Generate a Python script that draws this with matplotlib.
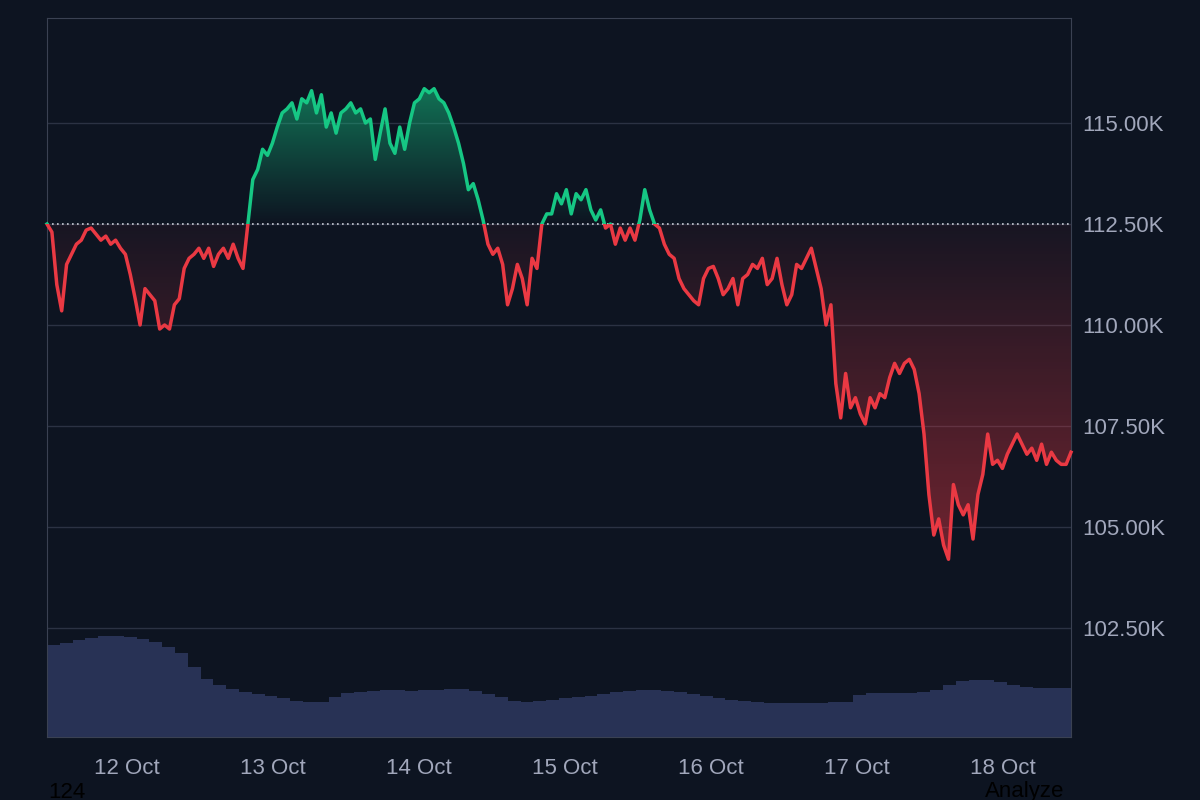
import numpy as np
import matplotlib.pyplot as plt
from matplotlib.colors import LinearSegmentedColormap
from matplotlib.path import Path

plt.rcParams['font.family'] = ['Liberation Sans', 'DejaVu Sans']

# price samples (K USD), roughly evenly spaced in time from ~11 Oct 11:00 to ~18 Oct 11:00
prices = [112.5, 112.3, 111.0, 110.35, 111.5, 111.75, 112.0, 112.1, 112.35, 112.4,
          112.25, 112.1, 112.2, 112.0, 112.1, 111.9, 111.75, 111.25, 110.65, 110.0,
          110.9, 110.75, 110.6, 109.9, 110.0, 109.9, 110.5, 110.65, 111.4, 111.65,
          111.75, 111.9, 111.65, 111.9, 111.45, 111.75, 111.9, 111.65, 112.0, 111.65,
          111.4, 112.5, 113.6, 113.85, 114.35, 114.2, 114.5, 114.9, 115.25, 115.35,
          115.5, 115.1, 115.6, 115.5, 115.8, 115.25, 115.7, 114.9, 115.25, 114.75,
          115.25, 115.35, 115.5, 115.25, 115.35, 115.0, 115.1, 114.1, 114.75, 115.35,
          114.5, 114.25, 114.9, 114.35, 115.0, 115.5, 115.6, 115.85, 115.75, 115.85,
          115.6, 115.5, 115.25, 114.9, 114.5, 114.0, 113.35, 113.5, 113.1, 112.6,
          112.0, 111.75, 111.9, 111.5, 110.5, 110.9, 111.5, 111.15, 110.5, 111.65,
          111.4, 112.5, 112.75, 112.75, 113.25, 113.0, 113.35, 112.75, 113.25, 113.1,
          113.35, 112.85, 112.6, 112.85, 112.4, 112.5, 112.0, 112.4, 112.1, 112.4,
          112.1, 112.6, 113.35, 112.85, 112.5, 112.4, 112.0, 111.75, 111.65, 111.15,
          110.9, 110.75, 110.6, 110.5, 111.15, 111.4, 111.45, 111.15, 110.75, 110.9,
          111.15, 110.5, 111.15, 111.25, 111.5, 111.4, 111.65, 111.0, 111.15, 111.65,
          111.0, 110.5, 110.75, 111.5, 111.4, 111.65, 111.9, 111.4, 110.9, 110.0,
          110.5, 108.55, 107.7, 108.8, 107.95, 108.2, 107.8, 107.55, 108.2, 107.95,
          108.3, 108.2, 108.7, 109.05, 108.8, 109.05, 109.15, 108.9, 108.3, 107.3,
          105.8, 104.8, 105.2, 104.55, 104.2, 106.05, 105.55, 105.3, 105.55, 104.7,
          105.8, 106.3, 107.3, 106.55, 106.65, 106.45, 106.8, 107.05, 107.3, 107.05,
          106.8, 106.95, 106.65, 107.05, 106.55, 106.85, 106.65, 106.55, 106.55, 106.85]

# volume profile (arbitrary units), evenly spaced over the same window
volumes = [92, 94, 97, 99, 101, 101, 100, 98, 95, 90, 84, 70, 58, 52, 48, 45, 43, 41, 39, 36,
           35, 35, 40, 44, 45, 46, 47, 47, 46, 47, 47, 48, 48, 46, 43, 40, 36, 35, 36, 37,
           39, 40, 41, 43, 45, 46, 47, 47, 46, 45, 43, 41, 39, 37, 36, 35, 34, 34, 34, 34,
           34, 35, 35, 42, 44, 44, 44, 44, 45, 47, 52, 56, 57, 57, 55, 52, 50, 49, 49, 49]

baseline = 112.5
t_start, t_end = 0.452, 7.466   # days since 11 Oct 00:00
tick_days = [1, 2, 3, 4, 5, 6, 7]
tick_labels = ["12 Oct", "13 Oct", "14 Oct", "15 Oct", "16 Oct", "17 Oct", "18 Oct"]
y_ticks = [102.5, 105.0, 107.5, 110.0, 112.5, 115.0]

BG = "#0d1421"
GRID = "#2b3243"
GREEN = "#16c784"
RED = "#ea3943"
TXT = "#a1a7bb"
Y0, Y1 = 99.8, 117.6

t = np.linspace(t_start, t_end, len(prices))
p = np.array(prices)

fig = plt.figure(figsize=(12, 8), dpi=100, facecolor=BG)
ax = fig.add_axes([47/1200, 63/800, 1024/1200, 719/800])
ax.set_facecolor(BG)

# volume on its own scale
vax = ax.twinx()
vax.set_ylim(0, 719)
vax.set_yticks([])
tv = np.linspace(t_start, t_end, len(volumes) + 1)
vax.bar(tv[:-1], volumes, width=tv[1] - tv[0], align="edge", color="#283255", linewidth=0)
vax.set_zorder(1)
ax.set_zorder(2)
ax.patch.set_visible(False)
vax.patch.set_visible(False)

for y in y_ticks:
    ax.axhline(y, color=GRID, lw=1, zorder=0)

# gradient fills clipped to the area between price and baseline
green_cmap = LinearSegmentedColormap.from_list("g", [(0.09, 0.78, 0.52, 0.0), (0.09, 0.78, 0.52, 0.55)])
red_cmap = LinearSegmentedColormap.from_list("r", [(0.92, 0.22, 0.26, 0.05), (0.92, 0.22, 0.26, 0.45)])
grad = np.linspace(0, 1, 256).reshape(-1, 1)
up = ax.fill_between(t, p, baseline, where=p >= baseline, interpolate=True, color="none")
dn = ax.fill_between(t, p, baseline, where=p <= baseline, interpolate=True, color="none")
gi = ax.imshow(grad, extent=[t_start, t_end, baseline, 116.0], origin="lower",
               aspect="auto", cmap=green_cmap, zorder=1)
gi.set_clip_path(Path.make_compound_path(*up.get_paths()), transform=ax.transData)
ri = ax.imshow(grad[::-1], extent=[t_start, t_end, 104.2, baseline], origin="lower",
               aspect="auto", cmap=red_cmap, zorder=1)
ri.set_clip_path(Path.make_compound_path(*dn.get_paths()), transform=ax.transData)

# price line, coloured by side of the baseline (same line, clipped twice)
red_line, = ax.plot(t, p, color=RED, lw=2.5, zorder=3)
green_line, = ax.plot(t, p, color=GREEN, lw=2.5, zorder=3)
rclip = plt.Rectangle((t_start - 1, Y0 - 5), 10, baseline - Y0 + 5, transform=ax.transData)
gclip = plt.Rectangle((t_start - 1, baseline), 10, 20, transform=ax.transData)
red_line.set_clip_path(rclip)
green_line.set_clip_path(gclip)
ax.axhline(baseline, color="#c8ccd6", lw=1.2, ls=(0, (1, 2)), zorder=2)

ax.set_xlim(t_start, t_end)
ax.set_ylim(Y0, Y1)
ax.yaxis.tick_right()
ax.set_yticks(y_ticks)
ax.set_yticklabels([f"{v:.2f}K" for v in y_ticks])
ax.set_xticks(tick_days)
ax.set_xticklabels(tick_labels)
ax.tick_params(colors=TXT, labelsize=16, length=0, pad=15)
ax.tick_params(axis="y", pad=8)
for s in ax.spines.values():
    s.set_color("#3a4152")
for s in vax.spines.values():
    s.set_visible(False)

fig.text(48/1200, 1 - 792/800, "124", color="#000000", fontsize=16, va="center")
fig.text(985/1200, 1 - 792/800, "Analyze", color="#000000", fontsize=16, va="center")

fig.savefig("out.png", dpi=100, facecolor=BG)
